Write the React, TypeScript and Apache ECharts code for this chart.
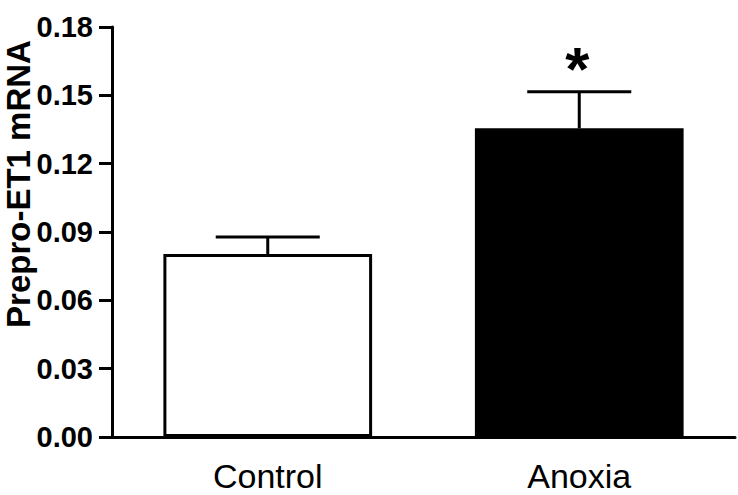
import React, { useEffect, useRef } from "react";
import * as echarts from "echarts";

const categories = ["Control", "Anoxia"];
const means = [0.0803, 0.1355];
const errors = [0.0075, 0.0161];
const significance = ["", "*"];
const barColors = ["#ffffff", "#000000"];
const yTicks = { min: 0, max: 0.18, interval: 0.03 };
const yAxisTitle = "Prepro-ET1 mRNA";

export default function App() {
  const ref = useRef<HTMLDivElement>(null);
  useEffect(() => {
    if (!ref.current) return;
    const chart = echarts.init(ref.current, null, { renderer: "svg" });
    chart.setOption({
      animation: false,
      backgroundColor: "#ffffff",
      grid: { left: 112, right: 3, top: 27, bottom: 58, containLabel: false },
      xAxis: {
        type: "category",
        data: categories,
        axisLine: { lineStyle: { color: "#000", width: 3 } },
        axisTick: { show: false },
        axisLabel: {
          color: "#000",
          fontFamily: "Liberation Sans, Arial, sans-serif",
          fontSize: 34,
          margin: 22,
        },
      },
      yAxis: {
        type: "value",
        min: yTicks.min,
        max: yTicks.max,
        interval: yTicks.interval,
        splitLine: { show: false },
        axisLine: { show: true, lineStyle: { color: "#000", width: 3 } },
        axisTick: { show: true, length: 13, lineStyle: { color: "#000", width: 3 } },
        axisLabel: {
          color: "#000",
          fontFamily: "Liberation Sans, Arial, sans-serif",
          fontWeight: "bold",
          fontSize: 29,
          margin: 19,
          formatter: (v: number) => v.toFixed(2),
        },
      },
      graphic: [
        {
          type: "text",
          x: 18,
          y: 184,
          rotation: Math.PI / 2,
          style: {
            text: yAxisTitle,
            fill: "#000",
            font: "bold 33px 'Liberation Sans', Arial, sans-serif",
            textAlign: "center",
            textVerticalAlign: "middle",
          },
        },
      ],
      series: [
        {
          type: "bar",
          barWidth: "67%",
          data: means.map((v, i) => ({
            value: v,
            itemStyle: {
              color: barColors[i],
              borderColor: "#000",
              borderWidth: 3,
            },
          })),
        },
        {
          type: "custom",
          z: 5,
          data: means.map((v, i) => [i, v, errors[i]]),
          renderItem: (params: any, api: any) => {
            const idx = api.value(0);
            const m = api.value(1);
            const e = api.value(2);
            const base = api.coord([idx, m]);
            const top = api.coord([idx, m + e]);
            const band = api.size([1, 0])[0];
            const half = band * 0.167;
            const children: any[] = [
              {
                type: "line",
                shape: { x1: base[0], y1: base[1], x2: top[0], y2: top[1] },
                style: { stroke: "#000", lineWidth: 3 },
              },
              {
                type: "line",
                shape: { x1: top[0] - half, y1: top[1], x2: top[0] + half, y2: top[1] },
                style: { stroke: "#000", lineWidth: 3 },
              },
            ];
            const sig = significance[params.dataIndex];
            if (sig) {
              children.push({
                type: "text",
                x: top[0] - 2,
                y: top[1] + 8,
                style: {
                  text: sig,
                  fill: "#000",
                  font: "bold 62px 'Liberation Sans', Arial, sans-serif",
                  textAlign: "center",
                  textVerticalAlign: "bottom",
                },
              });
            }
            return { type: "group", children };
          },
        },
      ],
    });
    return () => chart.dispose();
  }, []);
  return (
    <div
      ref={ref}
      style={{ position: "fixed", left: 0, top: 0, width: 738, height: 495 }}
    />
  );
}
